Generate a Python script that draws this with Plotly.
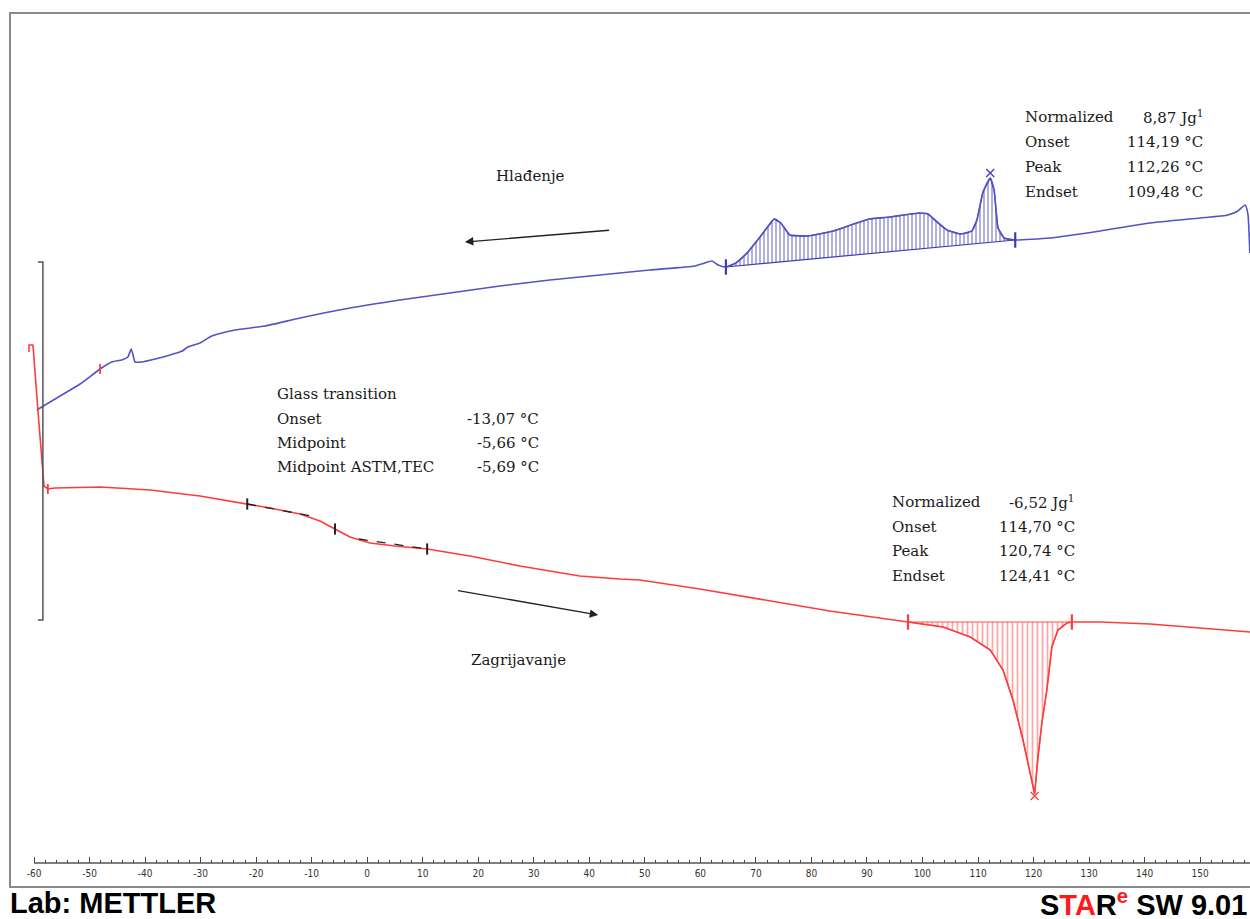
import plotly.graph_objects as go

# ---------------- data (temperature in °C, heat flow in arbitrary units) ----------------
cool_T = [-59.5, -55.3, -51.7, -48.1, -46.0, -44.2, -43.1, -42.5, -42.2, -41.8, -40.6, -38.2,
          -35.5, -33.3, -32.3, -30.1, -28.0, -23.8, -18.4, -12.1, -3.1, 5.9, 14.9, 23.9,
          32.9, 41.9, 50.9, 59.0, 60.8, 62.1, 63.2, 64.6, 66.4, 68.4, 70.9, 73.3, 74.5,
          76.1, 79.4, 83.9, 87.1, 90.4, 94.1, 99.4, 101.0, 102.4, 104.4, 106.9, 108.9,
          109.8, 110.9, 112.2, 112.9, 113.6, 114.7, 116.7, 123.0, 132.0, 141.0, 150.0,
          155.0, 156.8, 158.1, 158.6, 158.95]
cool_hf = [45.3, 46.7, 47.9, 49.4, 50.1, 50.3, 50.6, 51.4, 50.9, 50.1, 50.1, 50.4,
           50.8, 51.2, 51.6, 52.0, 52.7, 53.3, 53.7, 54.5, 55.5, 56.3, 57.0, 57.7,
           58.3, 58.8, 59.3, 59.7, 60.0, 60.2, 59.8, 59.6, 60.0, 61.0, 62.7, 64.4, 64.0,
           62.8, 62.7, 63.2, 63.8, 64.4, 64.6, 65.0, 64.9, 64.2, 63.3, 62.9, 63.2,
           64.3, 67.1, 68.5, 67.3, 63.5, 62.5, 62.3, 62.5, 63.2, 64.0, 64.5,
           64.8, 65.2, 65.8, 64.9, 61.0]

heat_T = [-60.9, -60.9, -60.2, -60.1, -59.3, -58.6, -58.2, -57.5, -56.2, -48.1, -39.1, -30.1,
          -21.6, -17.5, -12.1, -8.5, -5.8, -3.1, 0.5, 5.0, 10.8, 18.5, 27.5, 38.3,
          45.5, 49.1, 59.9, 70.7, 83.3, 92.3, 97.4, 103.7, 108.6, 112.2, 114.5, 116.3,
          118.1, 120.2, 120.8, 121.5, 122.4, 123.3, 124.4, 126.0, 126.9, 132.0, 141.0,
          150.0, 159.0]
heat_hf = [51.1, 51.8, 51.8, 51.2, 45.3, 40.1, 37.7, 37.4, 37.5, 37.6, 37.3, 36.7,
           35.9, 35.5, 34.9, 34.2, 33.4, 32.6, 32.0, 31.7, 31.4, 30.7, 29.7, 28.7,
           28.4, 28.3, 27.4, 26.4, 25.2, 24.5, 24.1, 23.6, 22.6, 21.3, 19.3, 16.3,
           12.3, 6.9, 10.6, 14.0, 17.3, 21.6, 23.3, 24.0, 24.1, 24.1, 23.9,
           23.5, 23.1]

# integration limits (onset / endset of the evaluated peaks)
cool_lim_T = [64.6, 116.7]
cool_lim_hf = [59.6, 62.3]
heat_lim_T = [97.4, 126.9]
heat_lim_hf = [24.1, 24.1]

# peak maxima
cool_peak_T, cool_peak_hf = [112.2], [69.0]
heat_peak_T, heat_peak_hf = [120.2], [6.7]

# glass transition evaluation
gt_T = [-21.6, -5.8, 10.8]
gt_hf = [35.9, 33.4, 31.4]
gt_tan1_T, gt_tan1_hf = [-21.6, -10.0], [35.9, 34.7]
gt_tan2_T, gt_tan2_hf = [-1.5, 10.8], [32.4, 31.4]

# small evaluation marks
cool_mark_T, cool_mark_hf = [-48.1], [49.4]
heat_mark_T, heat_mark_hf = [-57.5], [37.4]

# axis ticks
major_ticks = list(range(-60, 170, 10))
tick_labels = [str(v) for v in major_ticks]
minor_ticks = list(range(-60, 162, 2))

# text blocks
cool_labels = ["Normalized", "Onset", "Peak", "Endset"]
cool_values = ["8,87 Jg<sup>1</sup>", "114,19 °C", "112,26 °C", "109,48 °C"]
heat_labels = ["Normalized", "Onset", "Peak", "Endset"]
heat_values = ["-6,52 Jg<sup>1</sup>", "114,70 °C", "120,74 °C", "124,41 °C"]
gt_title = "Glass transition"
gt_labels = ["Onset", "Midpoint", "Midpoint ASTM,TEC"]
gt_values = ["-13,07 °C", "-5,66 °C", "-5,69 °C"]

BLUE = "#5353c6"
BLUE_H = "#3c3cb4"
RED = "#ff3c3c"
RED_H = "#ff5050"

# ---------------- layout helpers (pixel -> paper) ----------------
W, H = 1250, 919
L, T, R, B = 10, 13, 0, 56
PW, PH = W - L - R, H - T - B


def px(x):
    return (x - L) / PW


def py(y):
    return (H - B - y) / PH


X_MIN = -60 - 24 / 5.553
X_MAX = -60 + 1216 / 5.553

fig = go.Figure()

# blue (cooling) peak hatching
sel = [i for i, t in enumerate(cool_T) if cool_lim_T[0] <= t <= cool_lim_T[1]]
fig.add_trace(go.Scatter(x=cool_lim_T, y=cool_lim_hf, mode="lines",
                         line=dict(color=BLUE_H, width=1.2), hoverinfo="skip"))
fig.add_trace(go.Scatter(x=[cool_T[i] for i in sel], y=[cool_hf[i] for i in sel],
                         mode="lines", line=dict(color=BLUE_H, width=1.2),
                         fill="tonexty", fillcolor="rgba(0,0,0,0)",
                         fillpattern=dict(shape="|", fgcolor=BLUE_H, bgcolor="rgba(0,0,0,0)",
                                          size=4, solidity=0.4),
                         hoverinfo="skip"))
# red (heating) peak hatching
sel = [i for i, t in enumerate(heat_T) if heat_lim_T[0] <= t <= heat_lim_T[1]]
fig.add_trace(go.Scatter(x=heat_lim_T, y=heat_lim_hf, mode="lines",
                         line=dict(color=RED_H, width=1.2), hoverinfo="skip"))
fig.add_trace(go.Scatter(x=[heat_T[i] for i in sel], y=[heat_hf[i] for i in sel],
                         mode="lines", line=dict(color=RED_H, width=1.2),
                         fill="tonexty", fillcolor="rgba(0,0,0,0)",
                         fillpattern=dict(shape="|", fgcolor=RED_H, bgcolor="rgba(0,0,0,0)",
                                          size=5, solidity=0.35),
                         hoverinfo="skip"))

# main curves
fig.add_trace(go.Scatter(x=cool_T, y=cool_hf, mode="lines",
                         line=dict(color=BLUE, width=1.6, shape="spline", smoothing=0.5)))
fig.add_trace(go.Scatter(x=heat_T, y=heat_hf, mode="lines", line=dict(color=RED, width=1.6)))

# glass transition tangents and marks
fig.add_trace(go.Scatter(x=gt_tan1_T, y=gt_tan1_hf, mode="lines",
                         line=dict(color="#222", width=1.3, dash="dash")))
fig.add_trace(go.Scatter(x=gt_tan2_T, y=gt_tan2_hf, mode="lines",
                         line=dict(color="#222", width=1.3, dash="dash")))
fig.add_trace(go.Scatter(x=gt_T, y=gt_hf, mode="markers",
                         marker=dict(symbol="line-ns", size=8, line=dict(color="#222", width=2))))

# integration limit marks
fig.add_trace(go.Scatter(x=cool_lim_T, y=cool_lim_hf, mode="markers",
                         marker=dict(symbol="line-ns", size=11, line=dict(color=BLUE_H, width=2.2))))
fig.add_trace(go.Scatter(x=heat_lim_T, y=heat_lim_hf, mode="markers",
                         marker=dict(symbol="line-ns", size=11, line=dict(color=RED, width=2.2))))
fig.add_trace(go.Scatter(x=cool_peak_T, y=cool_peak_hf, mode="markers",
                         marker=dict(symbol="x-thin", size=8, line=dict(color=BLUE_H, width=1.3))))
fig.add_trace(go.Scatter(x=heat_peak_T, y=heat_peak_hf, mode="markers",
                         marker=dict(symbol="x-thin", size=8, line=dict(color=RED, width=1.3))))
fig.add_trace(go.Scatter(x=cool_mark_T, y=cool_mark_hf, mode="markers",
                         marker=dict(symbol="line-ns", size=7, line=dict(color=RED, width=1.8))))
fig.add_trace(go.Scatter(x=heat_mark_T, y=heat_mark_hf, mode="markers",
                         marker=dict(symbol="line-ns", size=7, line=dict(color=RED, width=1.8))))

shapes = [
    # outer frame
    dict(type="rect", xref="paper", yref="paper", x0=px(10), x1=1.05, y0=py(887), y1=py(13),
         line=dict(color="#8a8a8a", width=2)),
    # x axis line starting at -60
    dict(type="line", xref="x", yref="paper", x0=-60, x1=170, y0=0, y1=0,
         line=dict(color="#555", width=1.5)),
    # scale bracket
    dict(type="path", xref="x", yref="y",
         path="M -59.3,60.1 L -58.4,60.1 L -58.4,24.3 L -59.3,24.3",
         line=dict(color="#555", width=1.5)),
]

serif = dict(family="DejaVu Serif", size=15, color="#1a1a1a")
ann = []


def text(x, y, s, anchor="left", font=serif):
    ann.append(dict(xref="paper", yref="paper", x=px(x), y=py(y), text=s, showarrow=False,
                    xanchor=anchor, yanchor="middle", font=font))


rows_top = [117, 142, 167, 192]
for lab, val, yy in zip(cool_labels, cool_values, rows_top):
    text(1023, yy, lab)
    text(1205, yy, val, "right")

rows_bot = [502, 527, 551, 576]
for lab, val, yy in zip(heat_labels, heat_values, rows_bot):
    text(890, yy, lab)
    text(1077, yy, val, "right")

text(275, 394, gt_title)
for lab, val, yy in zip(gt_labels, gt_values, [419, 443, 467]):
    text(275, yy, lab)
    text(541, yy, val, "right")

text(530, 176, "Hlađenje", "center")
text(518, 660, "Zagrijavanje", "center")

# arrows
ann.append(dict(xref="x", yref="y", axref="x", ayref="y", x=17.6, y=62.1, ax=44.1, ay=63.3,
                text=" ", showarrow=True, arrowhead=2, arrowsize=1.3, arrowwidth=1.3,
                arrowcolor="#222"))
ann.append(dict(xref="x", yref="y", axref="x", ayref="y", x=41.6, y=24.8, ax=15.8, ay=27.3,
                text=" ", showarrow=True, arrowhead=2, arrowsize=1.3, arrowwidth=1.3,
                arrowcolor="#222"))

# footer
foot = dict(family="Liberation Sans", size=29, color="#000")
ann.append(dict(xref="paper", yref="paper", x=px(8), y=py(903), text="<b>Lab: METTLER</b>",
                showarrow=False, xanchor="left", yanchor="middle", font=foot))
ann.append(dict(xref="paper", yref="paper", x=px(1249), y=py(903),
                text="<b>S<span style='color:#ff1a1a'>TA</span>R"
                     "<sup><span style='color:#ff1a1a'>e</span></sup> SW 9.01</b>",
                showarrow=False, xanchor="right", yanchor="middle", font=foot))

fig.update_layout(
    width=W, height=H,
    margin=dict(l=L, r=R, t=T, b=B, pad=0),
    paper_bgcolor="white", plot_bgcolor="white",
    showlegend=False,
    shapes=shapes, annotations=ann,
    xaxis=dict(range=[X_MIN, X_MAX], showgrid=False, zeroline=False, showline=False,
               tickmode="array", tickvals=major_ticks, ticktext=tick_labels,
               ticks="inside", ticklen=6, tickwidth=1, tickcolor="#444",
               tickfont=dict(family="DejaVu Sans Condensed", size=10, color="#333"),
               ticklabelstandoff=3,
               minor=dict(tickmode="array", tickvals=minor_ticks, ticks="inside",
                          ticklen=3, tickwidth=1, tickcolor="#444", showgrid=False)),
    yaxis=dict(range=[0, 85], visible=False, showgrid=False, zeroline=False),
)

fig.write_html("out.html", config={"displayModeBar": False},
               post_script="document.body.style.margin='0px';document.body.style.overflow='hidden';")
